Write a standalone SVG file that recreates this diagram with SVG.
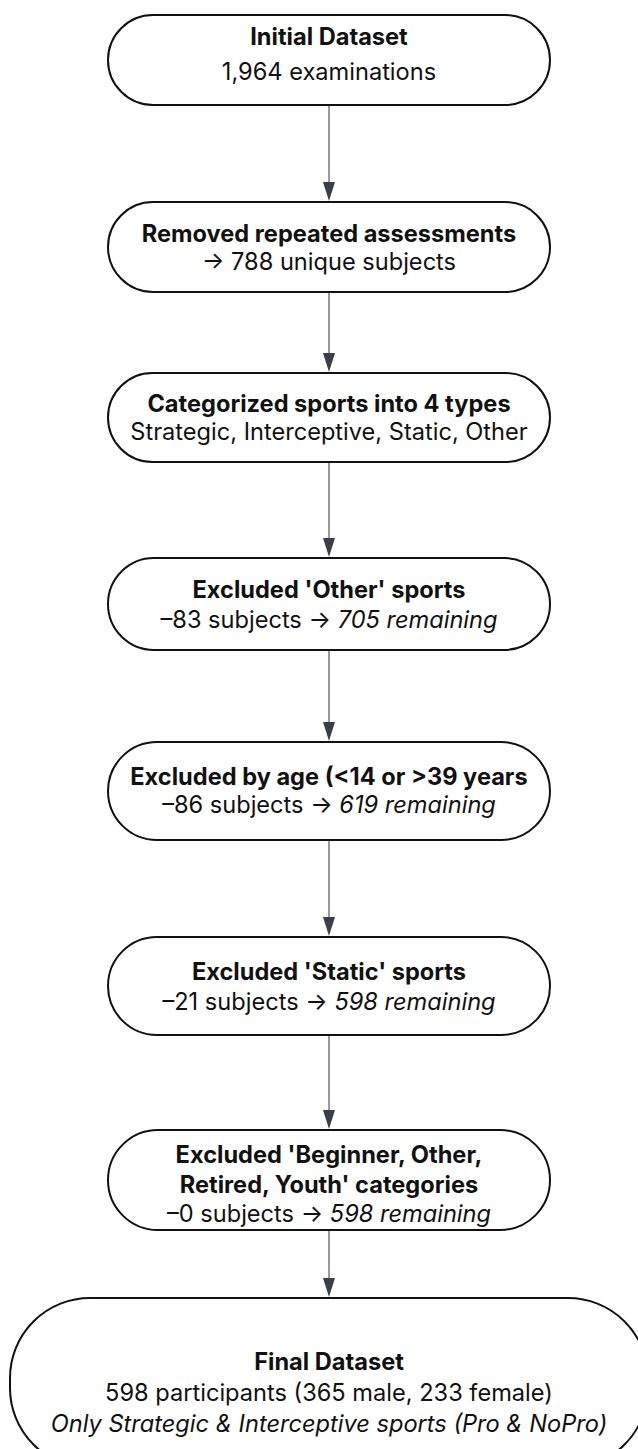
<svg xmlns="http://www.w3.org/2000/svg" width="638" height="1449" viewBox="0 0 638 1449">
<style>
.n{fill:#fff;stroke:#111;stroke-width:2}
.t{font-family:Inter,"Liberation Sans",sans-serif;font-size:23.6px;fill:#111;text-anchor:middle}
.b{font-weight:700}
.i{font-style:italic}
.c{stroke:#555;stroke-width:1.2;fill:none}
.h{fill:#3a404a}
</style>
<rect width="638" height="1449" fill="#fff"/>
<g id="connectors">
<line class="c" x1="329" y1="105" x2="329" y2="183"/>
<path class="h" d="M323,182 L335,182 L329,201 Z"/>
<line class="c" x1="329" y1="292" x2="329" y2="354"/>
<path class="h" d="M323,353 L335,353 L329,372 Z"/>
<line class="c" x1="329" y1="462" x2="329" y2="539"/>
<path class="h" d="M323,538 L335,538 L329,557 Z"/>
<line class="c" x1="329" y1="650" x2="329" y2="723"/>
<path class="h" d="M323,722 L335,722 L329,741 Z"/>
<line class="c" x1="329" y1="840" x2="329" y2="918"/>
<path class="h" d="M323,917 L335,917 L329,936 Z"/>
<line class="c" x1="329" y1="1035" x2="329" y2="1111"/>
<path class="h" d="M323,1110 L335,1110 L329,1129 Z"/>
<line class="c" x1="329" y1="1230" x2="329" y2="1279"/>
<path class="h" d="M323,1278 L335,1278 L329,1297 Z"/>
</g>
<g id="n1">
<rect class="n" x="108" y="15" width="442" height="90" rx="45"/>
<text class="t b" x="329" y="45">Initial Dataset</text>
<text class="t" x="329" y="80">1,964 examinations</text>
</g>
<g id="n2">
<rect class="n" x="108" y="202" width="442" height="90" rx="45"/>
<text class="t b" x="329" y="242">Removed repeated assessments</text>
<text class="t" x="329" y="270">→ 788 unique subjects</text>
</g>
<g id="n3">
<rect class="n" x="108" y="373" width="442" height="89" rx="44.5"/>
<text class="t b" x="329" y="412">Categorized sports into 4 types</text>
<text class="t" x="329" y="440">Strategic, Interceptive, Static, Other</text>
</g>
<g id="n4">
<rect class="n" x="108" y="558" width="442" height="92" rx="46"/>
<text class="t b" x="329" y="598">Excluded 'Other' sports</text>
<text class="t" x="329" y="628">–83 subjects → <tspan class="i">705 remaining</tspan></text>
</g>
<g id="n5">
<rect class="n" x="108" y="742" width="442" height="98" rx="49"/>
<text class="t b" x="329" y="785">Excluded by age (&lt;14 or &gt;39 years</text>
<text class="t" x="329" y="813">–86 subjects → <tspan class="i">619 remaining</tspan></text>
</g>
<g id="n6">
<rect class="n" x="108" y="937" width="442" height="98" rx="49"/>
<text class="t b" x="329" y="980">Excluded 'Static' sports</text>
<text class="t" x="329" y="1010">–21 subjects → <tspan class="i">598 remaining</tspan></text>
</g>
<g id="n7">
<rect class="n" x="108" y="1130" width="442" height="100" rx="50"/>
<text class="t b" x="329" y="1163">Excluded 'Beginner, Other,</text>
<text class="t b" x="329" y="1193">Retired, Youth' categories</text>
<text class="t" x="329" y="1222">–0 subjects → <tspan class="i">598 remaining</tspan></text>
</g>
<g id="n8">
<rect class="n" x="10" y="1298" width="638" height="170" rx="80"/>
<text class="t b" x="329" y="1370">Final Dataset</text>
<text class="t" x="329" y="1401">598 participants (365 male, 233 female)</text>
<text class="t i" x="329" y="1432">Only Strategic &amp; Interceptive sports (Pro &amp; NoPro)</text>
</g>
</svg>
